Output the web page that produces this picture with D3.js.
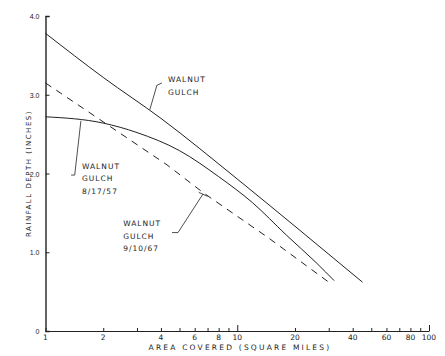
<!DOCTYPE html>
<html>
<head>
<meta charset="utf-8">
<script src="https://cdn.jsdelivr.net/npm/d3@7"></script>
<style>
  body { margin: 0; background: #fff; }
  svg text { font-family: "DejaVu Sans", sans-serif; fill: #222; }
</style>
</head>
<body>
<div id="chart"></div>
<script>
// area (sq mi) vs rainfall depth (in)
const topArea = [1, 2, 4, 10, 20, 45]
const topDepth = [3.78, 3.22, 2.70, 1.93, 1.33, 0.62]

const area57 = [1, 2, 3, 5, 8, 12, 18, 26, 32]
const depth57 = [2.72, 2.64, 2.52, 2.29, 1.96, 1.63, 1.22, 0.86, 0.64]

const area67 = [1, 4.3, 6.7, 14.6, 30]
const depth67 = [3.15, 2.11, 1.75, 1.18, 0.62]

const xTicks = [1, 2, 3, 4, 5, 6, 7, 8, 9, 10, 20, 30, 40, 50, 60, 70, 80, 90, 100]
const xLabels = [1, 2, 4, 6, 8, 10, 20, 40, 60, 80, 100]
const yTicks = [0, 1, 2, 3, 4]

const W = 445, H = 356

var svg = d3.select("#chart").append("svg")
    .attr("width", W)
    .attr("height", H)

var x = d3.scaleLog().domain([1, 100]).range([45.5, 429])
var y = d3.scaleLinear().domain([0, 4]).range([331, 16])

var ink = "#222"

// axes
var xAxis = d3.axisTop(x)
    .tickValues(xTicks)
    .tickSize(0)
    .tickFormat("")

var gx = svg.append("g")
    .attr("transform", "translate(0," + y(0) + ")")
    .call(xAxis)
gx.select(".domain").attr("stroke", ink).attr("stroke-width", 1.2)
gx.selectAll(".tick line")
    .attr("stroke", ink)
    .attr("y2", d => (d === 10 || d === 100) ? -6 : -3)

svg.append("g").selectAll("text")
    .data(xLabels)
    .enter().append("text")
      .attr("x", d => x(d))
      .attr("y", y(0) + 9)
      .attr("text-anchor", "middle")
      .style("font-size", "7.5px")
      .text(d => d)

var yAxis = d3.axisRight(y)
    .tickValues(yTicks)
    .tickSize(4)
    .tickFormat("")

var gy = svg.append("g")
    .attr("transform", "translate(" + x(1) + ",0)")
    .call(yAxis)
gy.select(".domain").attr("stroke", ink).attr("stroke-width", 1.4)
gy.selectAll(".tick line").attr("stroke", ink)

svg.append("g").selectAll("text")
    .data(yTicks)
    .enter().append("text")
      .attr("x", x(1) - 6)
      .attr("y", d => y(d) + 3)
      .attr("text-anchor", "end")
      .style("font-family", "'Liberation Sans', sans-serif")
      .style("font-size", "7px")
      .text(d => d === 0 ? "0" : d.toFixed(1))

// axis titles
svg.append("text")
    .attr("transform", "translate(31," + ((y(0) + y(4)) / 2) + ") rotate(-90)")
    .attr("text-anchor", "middle")
    .style("font-size", "7px")
    .style("letter-spacing", "1.5px")
    .text("RAINFALL DEPTH (INCHES)")

svg.append("text")
    .attr("x", 240)
    .attr("y", 350)
    .attr("text-anchor", "middle")
    .style("font-size", "7.5px")
    .style("letter-spacing", "2.2px")
    .text("AREA COVERED (SQUARE MILES)")

// curves
var line = d3.line()
    .x(d => x(d[0]))
    .y(d => y(d[1]))
    .curve(d3.curveMonotoneX)

svg.append("path")
    .datum(d3.zip(topArea, topDepth))
    .attr("d", line)
    .attr("fill", "none")
    .attr("stroke", ink)
    .attr("stroke-width", 1)

svg.append("path")
    .datum(d3.zip(area57, depth57))
    .attr("d", line)
    .attr("fill", "none")
    .attr("stroke", ink)
    .attr("stroke-width", 1)

svg.append("path")
    .datum(d3.zip(area67, depth67))
    .attr("d", d3.line().x(d => x(d[0])).y(d => y(d[1])))
    .attr("fill", "none")
    .attr("stroke", ink)
    .attr("stroke-width", 1)
    .attr("stroke-dasharray", "7,6")

// labels with leader lines (data coords)
var notes = [
  { lines: ["WALNUT", "GULCH"], at: [4.35, 3.16], leader: [[3.5, 2.81], [3.81, 3.12], [4.05, 3.15]] },
  { lines: ["WALNUT", "GULCH", "8/17/57"], at: [1.55, 2.06], leader: [[1.53, 2.67], [1.42, 1.98], [1.36, 1.98]] },
  { lines: ["WALNUT", "GULCH", "9/10/67"], at: [2.54, 1.333], leader: [[6.63, 1.74], [4.91, 1.25], [4.57, 1.25]] }
]

var leader = d3.line().x(d => x(d[0])).y(d => y(d[1]))

notes.forEach(n => {
  svg.append("path")
      .attr("d", leader(n.leader))
      .attr("fill", "none")
      .attr("stroke", ink)
      .attr("stroke-width", 0.8)
  var t = svg.append("text")
      .attr("x", x(n.at[0]))
      .attr("y", y(n.at[1]))
      .style("font-size", "7.5px")
      .style("letter-spacing", "1px")
  n.lines.forEach((s, i) => {
    t.append("tspan").attr("x", x(n.at[0])).attr("dy", i ? 12.5 : 0).text(s)
  })
})

// small crossbar where the 9/10/67 leader meets the dashed line
svg.append("path")
    .attr("d", leader([[6.3, 1.76], [7.0, 1.71]]))
    .attr("stroke", ink)
    .attr("stroke-width", 0.8)
</script>
</body>
</html>
